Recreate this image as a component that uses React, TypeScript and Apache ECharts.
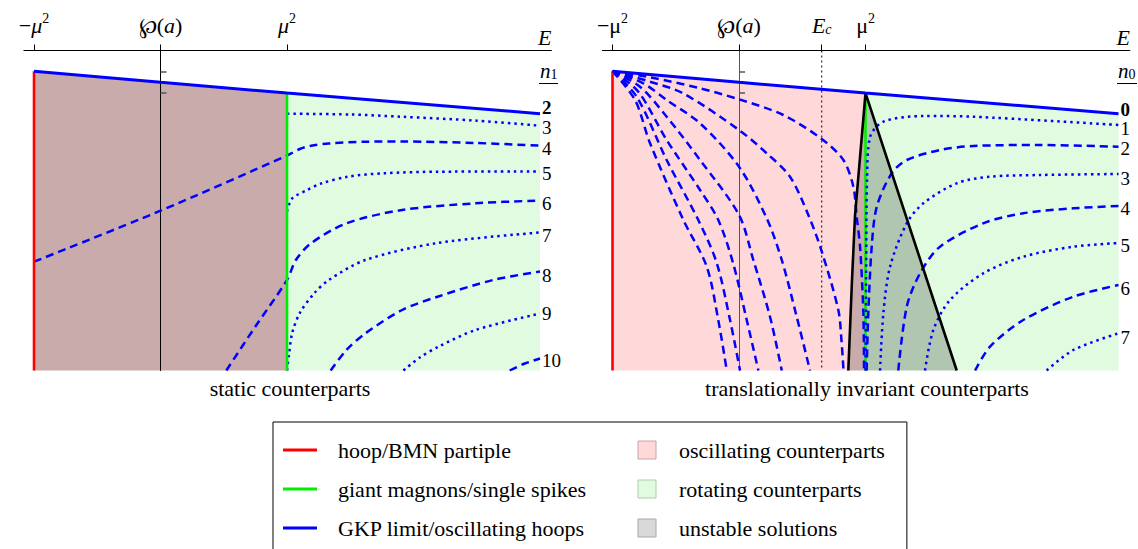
import React, { useEffect, useRef } from 'react';
import * as echarts from 'echarts';

const FONT = "'Liberation Serif', 'DejaVu Serif', 'Times New Roman', serif";

// ---- axes ----
const X_MIN = -1.08;
const X_MAX = 3.09;
const Y_MAX = 32;
const L_TICKS = [-1, 0, 1];
const R_TICKS = [-1, 0, 0.654, 1];
const L_TICK_LABELS = ['{r|−}{i|μ}{s|2}', '{p|℘}{r|(}{i|a}{r|)}', '{i|μ}{s|2}'];
const R_TICK_LABELS = ['{r|−μ}{s|2}', '{p|℘}{r|(}{i|a}{r|)}', '{i|E}{b|c}', '{r|μ}{s|2}'];
const P_TICKS = [2.12, 4.22];
const E_C = 0.654;

// ---- boundaries ----
const BLUE_TOP = [[-1, 2.08], [0, 3.18], [1, 4.26], [3, 6.32]];
const RED_LINE = [[-1, 2.08], [-1, 32]];
const GREEN_LINE = [[1, 4.26], [1, 32]];
const UNSTABLE_EDGE = [[0.864, 32], [0.893, 23], [0.917, 16.5], [1, 4.26], [1.721, 32]];

// ---- left panel (static counterparts), n1 = 3..10 ----
const L_LABELS = ['2', '3', '4', '5', '6', '7', '8', '9', '10'];
const L_N3 = [[1, 6.32], [1.5, 6.4], [1.9, 6.62], [2.5, 7.02], [3, 7.52]];
const L_N4 = [[-1, 21.12], [0, 16.02], [1, 10.5], [1.1, 9.85], [1.19, 9.52], [1.33, 9.3], [1.62, 9.12], [1.91, 9.1], [2.49, 9.25], [3, 9.52]];
const L_N5 = [[1, 16.1], [1.04, 14.8], [1.16, 13.95], [1.27, 13.3], [1.48, 12.62], [1.76, 12.28], [2.2, 12.12], [3, 12.1]];
const L_N6 = [[0.52, 32], [0.75, 27.6], [1, 22.95], [1.07, 20.95], [1.19, 19.28], [1.47, 17.28], [1.91, 15.95], [2.49, 15.28], [3, 15.0]];
const L_N7 = [[1, 32], [1.015, 30.5], [1.04, 28.3], [1.1, 26.28], [1.215, 24.28], [1.33, 22.95], [1.62, 20.95], [2.19, 19.25], [3, 18.2]];
const L_N8 = [[1.345, 32], [1.47, 29.95], [1.62, 28.28], [1.91, 25.95], [2.19, 24.62], [2.63, 22.95], [3, 22.1]];
const L_N9 = [[1.92, 32], [2.05, 30.7], [2.2, 29.6], [2.49, 27.95], [3, 26.3]];
const L_N10 = [[2.76, 32], [2.88, 31.3], [3, 30.8]];

// ---- right panel (translationally invariant counterparts), n0 = 1..7 ----
const R_LABELS = ['0', '1', '2', '3', '4', '5', '6', '7'];
const R_N1 = [[1, 32], [1.005, 22], [1.012, 12.95], [1.036, 8.65], [1.141, 7.12], [1.457, 6.55], [1.852, 6.62], [3, 7.45]];
const R_N2 = [[1.009, 32], [1.022, 26.28], [1.049, 19.62], [1.089, 15.62], [1.207, 12.28], [1.326, 10.95], [1.589, 9.95], [1.852, 9.55], [2.379, 9.45], [3, 9.62]];
const R_N3 = [[1.115, 32], [1.141, 26.28], [1.194, 21.62], [1.326, 17.28], [1.457, 15.28], [1.721, 13.28], [1.984, 12.62], [2.379, 12.45], [3, 12.35]];
const R_N4 = [[1.259, 32], [1.326, 25.62], [1.431, 22.28], [1.589, 19.62], [1.931, 17.28], [2.247, 16.28], [2.643, 15.78], [3, 15.55]];
const R_N5 = [[1.47, 32], [1.536, 27.95], [1.668, 24.95], [1.931, 22.28], [2.247, 20.62], [2.643, 19.62], [3, 19.25]];
const R_N6 = [[1.866, 32], [1.984, 29.62], [2.247, 26.95], [2.643, 24.62], [3, 23.45]];
const R_N7 = [[2.432, 32], [2.643, 29.95], [3, 28.28]];

// oscillating fan in the right panel
const R_F1 = [[-1, 2.08], [-0.704, 2.68], [-0.308, 3.78], [0, 4.88], [0.35, 6.45], [0.654, 8.85], [0.825, 10.95], [0.904, 13.62], [0.93, 16.62], [0.957, 19.62], [0.983, 26.28], [0.988, 32]];
const R_F2 = [[-1, 2.08], [-0.73, 3.02], [-0.443, 4.28], [0, 7.95], [0.219, 10.28], [0.403, 12.62], [0.548, 16.45], [0.654, 20.1], [0.785, 25.95], [0.81, 29], [0.826, 32]];
const R_F3 = [[-1, 2.08], [-0.757, 3.28], [-0.572, 4.95], [-0.308, 7.28], [0, 11.62], [0.219, 16.78], [0.338, 20.95], [0.456, 26.62], [0.561, 32]];
const R_F4 = [[-1, 2.08], [-0.783, 3.62], [-0.572, 6.62], [-0.308, 10.95], [0, 16.45], [0.113, 20.95], [0.245, 26.62], [0.338, 32]];
const R_F5 = [[-1, 2.08], [-0.796, 4.12], [-0.572, 8.95], [-0.308, 13.95], [-0.164, 16.95], [-0.047, 21.25], [0.061, 26.95], [0.153, 32]];
const R_F6 = [[-1, 2.08], [-0.809, 4.62], [-0.572, 10.95], [-0.322, 16.95], [-0.176, 21.25], [-0.071, 26.95], [0.008, 32]];
const R_F7 = [[-1, 2.08], [-0.822, 4.95], [-0.704, 9.25], [-0.44, 16.95], [-0.255, 21.62], [-0.164, 26.95], [-0.097, 32]];

// label nudges (pixels) for the n-labels at the right end of each curve
const L_LABEL_DY = [-6.5, 2, 2.3, 1.5, 2.5, 2.5, 3.5, -0.5, 1.5];
const R_LABEL_DY = [-4.5, 3.5, 1.3, 4, 2, 2, 3, 3.7];

const LEGEND_NAMES = [
  'hoop/BMN partiple',
  'giant magnons/single spikes',
  'GKP limit/oscillating hoops',
  'oscillating counterparts',
  'rotating counterparts',
  'unstable solutions',
];
const CAPTIONS = ['static counterparts', 'translationally invariant counterparts'];

const PINK = '#ffd9d9';
const GREEN_FILL = '#e0fbe0';
const SHADE = 'rgba(0,0,0,0.21)';
const BLUE = '#0000ff';

const DASH = [8, 5];
const DOT = [2.5, 4];

const LINE_ICON = 'path://M0,0H34V2.8H0Z';
const SQUARE_ICON = 'path://M0,0H20V20H0Z';

function poly(name: string, grid: number, pts: number[][], fill: string, z: number) {
  return {
    type: 'custom',
    name,
    xAxisIndex: grid,
    yAxisIndex: grid,
    z,
    silent: true,
    itemStyle: { color: fill },
    data: [pts[0]],
    renderItem: (params: any, api: any) => {
      if (params.dataIndex !== 0) return null;
      return {
        type: 'polygon',
        shape: { points: pts.map((p) => api.coord(p)) },
        style: { fill },
      };
    },
  };
}

function curve(name: string, grid: number, data: number[][], kind: any, label?: string, dy = 0, bold?: boolean, color = BLUE, width = 2.5, z = 5) {
  const s: any = {
    type: 'line',
    name,
    xAxisIndex: grid,
    yAxisIndex: grid,
    data,
    symbol: 'none',
    showSymbol: false,
    smooth: 0.3,
    silent: true,
    z,
    lineStyle: { color, width, type: kind, cap: 'butt' },
    itemStyle: { color },
  };
  if (label) {
    s.endLabel = {
      show: true,
      formatter: label,
      distance: 2,
      offset: [0, dy],
      color: '#000',
      fontFamily: FONT,
      fontSize: 19,
      lineHeight: 14,
      fontWeight: bold ? 'bold' : 'normal',
    };
  }
  return s;
}

function straight(name: string, grid: number, data: number[][], color: string, width: number, z: number, type: any = 'solid', label?: string, dy = 0) {
  const s = curve(name, grid, data, type, label, dy, true, color, width, z);
  s.smooth = false;
  return s;
}

const rich = {
  i: { fontFamily: FONT, fontSize: 22, fontStyle: 'italic', color: '#000', verticalAlign: 'bottom', lineHeight: 25 },
  r: { fontFamily: FONT, fontSize: 22, color: '#000', verticalAlign: 'bottom', lineHeight: 25 },
  p: { fontFamily: FONT, fontSize: 22, color: '#000', verticalAlign: 'bottom', lineHeight: 25 },
  s: { fontFamily: FONT, fontSize: 14, color: '#000', verticalAlign: 'top', lineHeight: 14 },
  b: { fontFamily: FONT, fontSize: 14, fontStyle: 'italic', color: '#000', verticalAlign: 'bottom', lineHeight: 14 },
};

function xAxis(grid: number, ticks: number[], labels: string[]) {
  return {
    type: 'value',
    gridIndex: grid,
    position: 'top',
    min: X_MIN,
    max: X_MAX,
    z: 4,
    axisLine: { show: true, onZero: false, lineStyle: { color: '#000', width: 1 } },
    axisTick: { show: true, customValues: ticks, length: 6, lineStyle: { color: '#000', width: 1 } },
    axisLabel: {
      show: true,
      customValues: ticks,
      margin: 14,
      formatter: (v: number) => labels[ticks.indexOf(v)] ?? '',
      rich,
    },
    splitLine: { show: false },
    name: 'E',
    nameLocation: 'end',
    nameGap: 0,
    nameTextStyle: {
      fontFamily: FONT,
      fontSize: 22,
      fontStyle: 'italic',
      color: '#000',
      align: 'right',
      verticalAlign: 'bottom',
      padding: [0, 0, 2, 0],
    },
  };
}

function yAxis(grid: number, color: string) {
  return {
    type: 'value',
    gridIndex: grid,
    min: 0,
    max: Y_MAX,
    inverse: true,
    z: 3,
    axisLine: { show: true, onZero: true, lineStyle: { color, width: 1 } },
    axisTick: { show: true, inside: true, length: 6, customValues: P_TICKS, lineStyle: { color: '#555', width: 1.5 } },
    axisLabel: { show: false },
    splitLine: { show: false },
  };
}

const nRich = {
  n: { fontFamily: FONT, fontSize: 21, fontStyle: 'italic', color: '#000', verticalAlign: 'bottom', lineHeight: 22 },
  k: { fontFamily: FONT, fontSize: 14, color: '#000', verticalAlign: 'bottom', lineHeight: 12 },
};

export default function App() {
  const ref = useRef<HTMLDivElement>(null);
  useEffect(() => {
    if (!ref.current) return;
    const chart = echarts.init(ref.current, undefined, { renderer: 'svg' });

    const leftTop = BLUE_TOP.filter((p) => p[0] <= 1);
    const rightTop = BLUE_TOP.filter((p) => p[0] >= 1);
    const pinkPoly = [...leftTop, [1, Y_MAX], [-1, Y_MAX]];
    const greenPoly = [...rightTop, [3, Y_MAX], [1, Y_MAX]];
    const unstableR = [[1, 4.26], [1.721, Y_MAX], [0.864, Y_MAX], [0.893, 23], [0.917, 16.5]];

    const lCurves = [L_N3, L_N4, L_N5, L_N6, L_N7, L_N8, L_N9, L_N10];
    const rCurves = [R_N1, R_N2, R_N3, R_N4, R_N5, R_N6, R_N7];
    const fan = [R_F1, R_F2, R_F3, R_F4, R_F5, R_F6, R_F7];

    const series: any[] = [
      // left panel
      poly(LEGEND_NAMES[3], 0, pinkPoly, PINK, 1),
      poly(LEGEND_NAMES[4], 0, greenPoly, GREEN_FILL, 1),
      poly(LEGEND_NAMES[5], 0, pinkPoly, SHADE, 2),
      ...lCurves.map((d, k) => curve('n1=' + L_LABELS[k + 1], 0, d, k % 2 === 0 ? DOT : DASH, L_LABELS[k + 1], L_LABEL_DY[k + 1])),
      straight(LEGEND_NAMES[0], 0, RED_LINE, '#ff0000', 2.6, 6),
      straight(LEGEND_NAMES[1], 0, GREEN_LINE, '#00ee00', 2.6, 6),
      straight(LEGEND_NAMES[2], 0, BLUE_TOP, BLUE, 3, 7, 'solid', L_LABELS[0], L_LABEL_DY[0]),
      // right panel
      poly(LEGEND_NAMES[3], 1, pinkPoly, PINK, 1),
      poly(LEGEND_NAMES[4], 1, greenPoly, GREEN_FILL, 1),
      poly(LEGEND_NAMES[5], 1, unstableR, SHADE, 2),
      straight('Ec', 1, [[E_C, 0], [E_C, Y_MAX]], '#000', 1, 3, [2, 3]),
      straight(LEGEND_NAMES[1], 1, GREEN_LINE, '#00ee00', 2.6, 4),
      ...fan.map((d, k) => curve('fan' + k, 1, d, DASH)),
      ...rCurves.map((d, k) => curve('n0=' + R_LABELS[k + 1], 1, d, k % 2 === 0 ? DOT : DASH, R_LABELS[k + 1], R_LABEL_DY[k + 1])),
      straight('unstable edge', 1, UNSTABLE_EDGE, '#000', 2.6, 6),
      straight(LEGEND_NAMES[0], 1, RED_LINE, '#ff0000', 2.6, 6),
      straight(LEGEND_NAMES[2], 1, BLUE_TOP, BLUE, 3, 7, 'solid', R_LABELS[0], R_LABEL_DY[0]),
    ];

    const gridW = 527.5;
    const capStyle = { fontFamily: FONT, fontSize: 22, fontWeight: 'normal', color: '#000' };
    const option: any = {
      animation: false,
      backgroundColor: '#fff',
      grid: [
        { left: 23.9, top: 50.5, width: gridW, height: 320 },
        { left: 602.4, top: 50.5, width: gridW, height: 320 },
      ],
      xAxis: [xAxis(0, L_TICKS, L_TICK_LABELS), xAxis(1, R_TICKS, R_TICK_LABELS)],
      yAxis: [yAxis(0, '#000'), yAxis(1, '#555')],
      title: [
        { text: CAPTIONS[0], left: 290, top: 377, textAlign: 'center', padding: 0, textStyle: capStyle },
        { text: CAPTIONS[1], left: 867, top: 377, textAlign: 'center', padding: 0, textStyle: capStyle },
      ],
      legend: {
        orient: 'vertical',
        left: 273,
        top: 422,
        height: 112,
        itemGap: 17,
        itemWidth: 34,
        itemHeight: 18,
        padding: [17, 22, 14, 10],
        borderColor: '#000',
        borderWidth: 1,
        selectedMode: false,
        textStyle: { fontFamily: FONT, fontSize: 22, color: '#000', lineHeight: 20 },
        data: [
          { name: LEGEND_NAMES[0], icon: LINE_ICON, itemStyle: { color: '#ff0000', borderWidth: 0 }, textStyle: { width: 275, padding: [0, 0, 0, 16] } },
          { name: LEGEND_NAMES[1], icon: LINE_ICON, itemStyle: { color: '#00ee00', borderWidth: 0 }, textStyle: { width: 275, padding: [0, 0, 0, 16] } },
          { name: LEGEND_NAMES[2], icon: LINE_ICON, itemStyle: { color: BLUE, borderWidth: 0 }, textStyle: { width: 275, padding: [0, 0, 0, 16] } },
          { name: LEGEND_NAMES[3], icon: SQUARE_ICON, itemStyle: { color: PINK, borderColor: '#caa4a4', borderWidth: 1 }, textStyle: { padding: [0, 0, 0, 10] } },
          { name: LEGEND_NAMES[4], icon: SQUARE_ICON, itemStyle: { color: GREEN_FILL, borderColor: '#a9cfa9', borderWidth: 1 }, textStyle: { padding: [0, 0, 0, 10] } },
          { name: LEGEND_NAMES[5], icon: SQUARE_ICON, itemStyle: { color: '#d9d9d9', borderColor: '#a8a8a8', borderWidth: 1 }, textStyle: { padding: [0, 0, 0, 10] } },
        ],
      },
      graphic: [
        { type: 'text', left: 540, top: 60, style: { text: '{n|n}{k|1}', rich: nRich } },
        { type: 'line', shape: { x1: 539, y1: 83.5, x2: 558, y2: 83.5 }, style: { stroke: '#000', lineWidth: 1 } },
        { type: 'text', left: 1118, top: 60, style: { text: '{n|n}{k|0}', rich: nRich } },
        { type: 'line', shape: { x1: 1117, y1: 83.5, x2: 1137, y2: 83.5 }, style: { stroke: '#000', lineWidth: 1 } },
      ],
      series,
    };
    chart.setOption(option);
    return () => chart.dispose();
  }, []);

  return (
    <div
      ref={ref}
      style={{ position: 'fixed', left: 0, top: 0, width: 1138, height: 549, background: '#fff' }}
    />
  );
}
